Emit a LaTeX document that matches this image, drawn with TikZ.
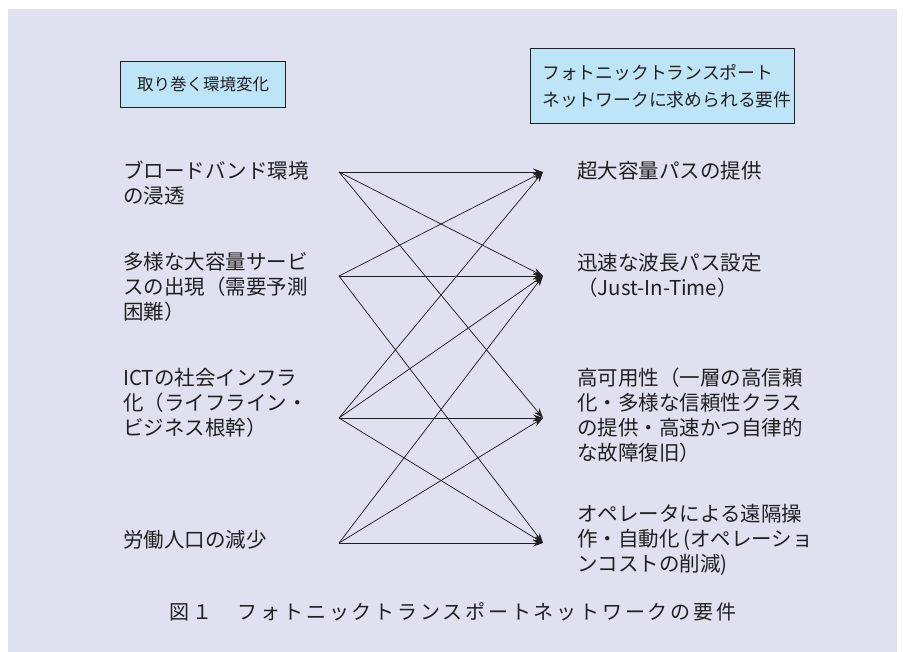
\documentclass[tikz,border=0pt]{standalone}
\usepackage{fontspec}
\setmainfont{Noto Sans CJK JP}
\usetikzlibrary{arrows.meta}
\definecolor{bg}{RGB}{223,225,240}
\definecolor{boxfill}{RGB}{190,228,247}
\definecolor{ink}{RGB}{35,31,32}
\newcommand{\capfont}{\fontsize{20}{24}\selectfont\addfontfeature{LetterSpace=14}}
\begin{document}
\begin{tikzpicture}[x=1pt,y=-1pt,
  body/.style={font=\fontsize{20.5}{25}\selectfont, text=ink, align=left, anchor=west, inner sep=0pt},
  hbox/.style={draw=ink, line width=0.8pt, fill=boxfill, inner sep=0pt},
  link/.style={draw=ink, line width=0.75pt, -{Stealth[length=10pt,width=7pt]}}
]
\useasboundingbox (0,0) rectangle (903,652);
\fill[bg] (8,9) rectangle (897,652);

% header boxes
\node[hbox, minimum width=165pt, minimum height=46pt, font=\fontsize{16.5}{20}\selectfont, text=ink] (hl) at (203,84) {取り巻く環境変化};
\node[hbox, minimum width=264pt, minimum height=75pt] (hr) at (662,85.5) {};
\node[font=\fontsize{17.8}{27}\selectfont, text=ink, align=left, anchor=west, inner sep=0pt] (hrt) at (542,86.5) {フォトニックトランスポート\\ネットワークに求められる要件};

% left texts
\node[body] (l1) at (123,183.5) {ブロードバンド環境\\の浸透};
\node[body] (l2) at (123,287) {多様な大容量サービ\\スの出現（需要予測\\困難）};
\node[body] (l3) at (123,403) {ICTの社会インフラ\\化（ライフライン・\\ビジネス根幹）};
\node[body] (l4) at (123,540) {労働人口の減少};

% right texts
\node[body] (r1) at (577,171) {超大容量パスの提供};
\node[body] (r2) at (577,275.5) {迅速な波長パス設定\\（Just-In-Time）};
\node[body] (r3) at (577,415.5) {高可用性（一層の高信頼\\化・多様な信頼性クラス\\の提供・高速かつ自律的\\な故障復旧）};
\node[body] (r4) at (577,540) {オペレータによる遠隔操\\作・自動化\,(オペレーショ\\ンコストの削減)};

% connector ends
\coordinate (s1) at (339,172);
\coordinate (s2) at (339,276);
\coordinate (s3) at (339,418);
\coordinate (s4) at (339,543);
\coordinate (t1) at (543,172);
\coordinate (t2) at (543,276);
\coordinate (t3) at (543,418);
\coordinate (t4) at (543,543);

\draw[link] (s1) -- (t1);
\draw[link] (s1) -- (t2);
\draw[link] (s1) -- (t3);
\draw[link] (s2) -- (t1);
\draw[link] (s2) -- (t2);
\draw[link] (s2) -- (t4);
\draw[link] (s3) -- (t1);
\draw[link] (s3) -- (t2);
\draw[link] (s3) -- (t3);
\draw[link] (s3) -- (t4);
\draw[link] (s4) -- (t2);
\draw[link] (s4) -- (t3);
\draw[link] (s4) -- (t4);

% caption
\node[font=\capfont, text=ink, inner sep=0pt] (cap) at (453,612) {図１　フォトニックトランスポートネットワークの要件};
\end{tikzpicture}
\end{document}
